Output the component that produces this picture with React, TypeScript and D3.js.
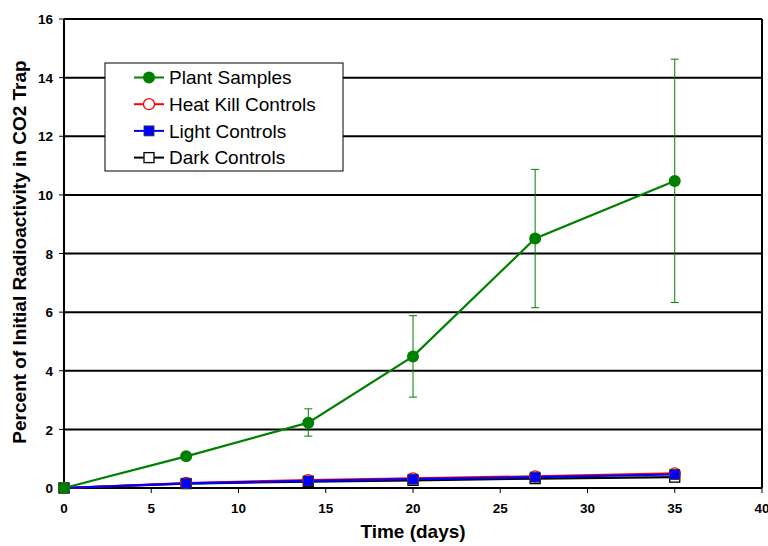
import React from "react";
import * as d3 from "d3";

const days = [0, 7, 14, 20, 27, 35];
const plantSamples = [0, 1.08, 2.23, 4.49, 8.51, 10.47];
const plantErrLow = [0, 1.08, 1.77, 3.1, 6.15, 6.33];
const plantErrHigh = [0, 1.08, 2.7, 5.88, 10.87, 14.63];
const heatKill = [0, 0.17, 0.27, 0.33, 0.4, 0.5];
const lightControls = [0, 0.16, 0.24, 0.3, 0.37, 0.46];
const darkControls = [0, 0.15, 0.22, 0.26, 0.32, 0.37];
const xTicks = [0, 5, 10, 15, 20, 25, 30, 35, 40];
const yTicks = [0, 2, 4, 6, 8, 10, 12, 14, 16];
const legendNames = ["Plant Samples", "Heat Kill Controls", "Light Controls", "Dark Controls"];

const W = 768, H = 546;
const x = d3.scaleLinear().domain([0, 40]).range([64, 762]);
const y = d3.scaleLinear().domain([0, 16]).range([488, 19]);
const FONT = "'Liberation Sans', Arial, sans-serif";

function line(vals: number[]) {
  return d3.line<number>().x((_, i) => x(days[i])).y((v) => y(v))(vals) || "";
}

function Marker({ kind, cx, cy }: { kind: string; cx: number; cy: number }) {
  if (kind === "plant") return <circle cx={cx} cy={cy} r={6} fill="#008000" />;
  if (kind === "heat") return <circle cx={cx} cy={cy} r={5.5} fill="white" stroke="red" strokeWidth={1.3} />;
  if (kind === "light") return <rect x={cx - 5} y={cy - 5} width={10} height={10} fill="blue" stroke="#333" strokeWidth={0.8} />;
  return <rect x={cx - 5} y={cy - 5} width={10} height={10} fill="white" stroke="black" strokeWidth={1.3} />;
}

export default function App() {
  const series = [
    { kind: "dark", vals: darkControls, color: "black" },
    { kind: "heat", vals: heatKill, color: "red" },
    { kind: "light", vals: lightControls, color: "blue" },
    { kind: "plant", vals: plantSamples, color: "#008000" },
  ];
  const legendKinds = ["plant", "heat", "light", "dark"];
  const legendColors = ["#008000", "red", "blue", "black"];
  return (
    <svg width={W} height={H} style={{ position: "absolute", left: 0, top: 0, background: "white" }} fontFamily={FONT}>
      {yTicks.filter((t) => t > 0).map((t) => (
        <line key={t} x1={x(0)} x2={x(40)} y1={y(t)} y2={y(t)} stroke="black" strokeWidth={2} />
      ))}
      <line x1={x(40)} x2={x(40)} y1={y(16)} y2={y(0)} stroke="black" strokeWidth={2} />
      <line x1={x(0)} x2={x(0)} y1={y(16)} y2={y(0)} stroke="black" strokeWidth={2} />
      <line x1={x(0)} x2={x(40)} y1={y(0)} y2={y(0)} stroke="black" strokeWidth={2} />
      {yTicks.map((t) => (
        <g key={t}>
          <line x1={x(0) - 5} x2={x(0)} y1={y(t)} y2={y(t)} stroke="black" strokeWidth={1} />
          <text x={53} y={y(t)} dy="0.38em" textAnchor="end" fontSize={13.5} fontWeight="bold">{t}</text>
        </g>
      ))}
      {xTicks.map((t) => (
        <g key={t}>
          <line x1={x(t)} x2={x(t)} y1={y(0)} y2={y(0) + 5} stroke="black" strokeWidth={1} />
          <text x={x(t)} y={513} textAnchor="middle" fontSize={13.5} fontWeight="bold">{t}</text>
        </g>
      ))}
      <text x={413} y={538} textAnchor="middle" fontSize={19} fontWeight="bold">Time (days)</text>
      <text transform={`translate(26,252) rotate(-90)`} textAnchor="middle" fontSize={19} fontWeight="bold">
        Percent of Initial Radioactivity in CO2 Trap
      </text>
      {days.map((d, i) =>
        plantErrHigh[i] > plantErrLow[i] ? (
          <g key={d} stroke="#008000" strokeWidth={1}>
            <line x1={x(d)} x2={x(d)} y1={y(plantErrHigh[i])} y2={y(plantErrLow[i])} />
            <line x1={x(d) - 4} x2={x(d) + 4} y1={y(plantErrHigh[i])} y2={y(plantErrHigh[i])} />
            <line x1={x(d) - 4} x2={x(d) + 4} y1={y(plantErrLow[i])} y2={y(plantErrLow[i])} />
          </g>
        ) : null
      )}
      {series.map((s) => (
        <path key={s.kind} d={line(s.vals)} fill="none" stroke={s.color} strokeWidth={2.2} />
      ))}
      {series.map((s) => (
        <g key={s.kind + "m"}>
          {s.vals.map((v, i) => (
            <Marker key={i} kind={s.kind} cx={x(days[i])} cy={y(v)} />
          ))}
        </g>
      ))}
      <rect x={105} y={63} width={238} height={108} fill="white" stroke="black" strokeWidth={1} />
      {legendNames.map((n, i) => {
        const cy = 77.5 + i * 26.7;
        return (
          <g key={n}>
            <line x1={134} x2={164} y1={cy} y2={cy} stroke={legendColors[i]} strokeWidth={2} />
            <Marker kind={legendKinds[i]} cx={149} cy={cy} />
            <text x={169} y={cy} dy="0.36em" fontSize={19}>{n}</text>
          </g>
        );
      })}
    </svg>
  );
}
